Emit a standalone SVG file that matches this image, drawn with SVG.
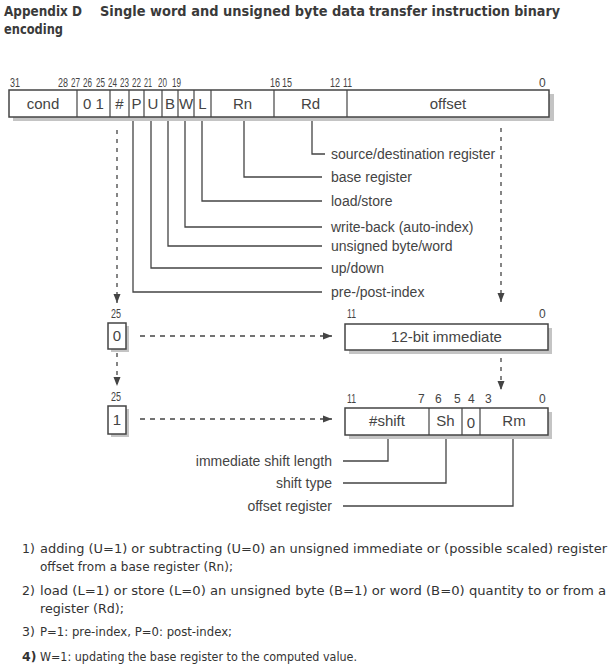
<svg xmlns="http://www.w3.org/2000/svg" width="615" height="667" viewBox="0 0 615 667">
<style>
.t{font-family:"DejaVu Sans",Verdana,sans-serif;font-weight:bold;font-size:14px;fill:#3a3a3a}
.n{font-family:"DejaVu Sans",Verdana,sans-serif;font-size:12.5px;fill:#333}
.nb{font-family:"DejaVu Sans",Verdana,sans-serif;font-size:12.5px;fill:#333;font-weight:bold}
.b{font-family:"Liberation Sans",Arial,sans-serif;font-size:12px;fill:#444}
.f{font-family:"Liberation Sans",Arial,sans-serif;font-size:15px;fill:#444;text-anchor:middle}
.l{font-family:"Liberation Sans",Arial,sans-serif;font-size:14px;fill:#444}
.lr{font-family:"Liberation Sans",Arial,sans-serif;font-size:14px;fill:#444;text-anchor:end}
.box{fill:#fff;stroke:#444;stroke-width:1.5}
.sh{fill:#c4c4c4}
.div{stroke:#444;stroke-width:1.2}
.ln{fill:none;stroke:#444;stroke-width:1.3}
.dash{fill:none;stroke:#444;stroke-width:1.3;stroke-dasharray:5 5}
.vdash{fill:none;stroke:#444;stroke-width:1.3;stroke-dasharray:4 5}
</style>
<defs>
<marker id="ah" markerWidth="10" markerHeight="8" refX="9" refY="4" orient="auto" markerUnits="userSpaceOnUse">
<path d="M0,0.5 L9,4 L0,7.5 Z" fill="#444"/>
</marker>
</defs>
<rect width="615" height="667" fill="#fff"/>

<g id="title">
<text class="t" x="4" y="16" textLength="78" lengthAdjust="spacingAndGlyphs">Appendix D</text>
<text class="t" x="100" y="16" textLength="265" lengthAdjust="spacingAndGlyphs">Single word and unsigned byte data</text>
<text class="t" x="369" y="16" textLength="191" lengthAdjust="spacingAndGlyphs">transfer instruction binary</text>
<text class="t" x="4" y="34" textLength="59" lengthAdjust="spacingAndGlyphs">encoding</text>
</g>

<g id="instruction-word">
<text class="b" x="10" y="87" textLength="10" lengthAdjust="spacingAndGlyphs">31</text>
<text class="b" x="58" y="87" textLength="10" lengthAdjust="spacingAndGlyphs">28</text>
<text class="b" x="71" y="87" textLength="9" lengthAdjust="spacingAndGlyphs">27</text>
<text class="b" x="83" y="87" textLength="9" lengthAdjust="spacingAndGlyphs">26</text>
<text class="b" x="96" y="87" textLength="9" lengthAdjust="spacingAndGlyphs">25</text>
<text class="b" x="108" y="87" textLength="9" lengthAdjust="spacingAndGlyphs">24</text>
<text class="b" x="120" y="87" textLength="9" lengthAdjust="spacingAndGlyphs">23</text>
<text class="b" x="132" y="87" textLength="9" lengthAdjust="spacingAndGlyphs">22</text>
<text class="b" x="144" y="87" textLength="8" lengthAdjust="spacingAndGlyphs">21</text>
<text class="b" x="158" y="87" textLength="9" lengthAdjust="spacingAndGlyphs">20</text>
<text class="b" x="172" y="87" textLength="9" lengthAdjust="spacingAndGlyphs">19</text>
<text class="b" x="270" y="87" textLength="10" lengthAdjust="spacingAndGlyphs">16</text>
<text class="b" x="282" y="87" textLength="10" lengthAdjust="spacingAndGlyphs">15</text>
<text class="b" x="330" y="87" textLength="10" lengthAdjust="spacingAndGlyphs">12</text>
<text class="b" x="343" y="87" textLength="9" lengthAdjust="spacingAndGlyphs">11</text>
<text class="b" x="539" y="87">0</text>
<rect class="sh" x="13" y="94" width="541" height="27"/>
<rect class="box" x="9" y="90" width="540" height="27"/>
<line class="div" x1="77" y1="90" x2="77" y2="117"/>
<line class="div" x1="110" y1="90" x2="110" y2="117"/>
<line class="div" x1="129" y1="90" x2="129" y2="117"/>
<line class="div" x1="144" y1="90" x2="144" y2="117"/>
<line class="div" x1="162" y1="90" x2="162" y2="117"/>
<line class="div" x1="178" y1="90" x2="178" y2="117"/>
<line class="div" x1="194" y1="90" x2="194" y2="117"/>
<line class="div" x1="211" y1="90" x2="211" y2="117"/>
<line class="div" x1="274" y1="90" x2="274" y2="117"/>
<line class="div" x1="347" y1="90" x2="347" y2="117"/>
<text class="f" x="43" y="109">cond</text>
<text class="f" x="93.5" y="109">0 1</text>
<text class="f" x="119.5" y="109">#</text>
<text class="f" x="136.5" y="109">P</text>
<text class="f" x="153" y="109">U</text>
<text class="f" x="170" y="109">B</text>
<text class="f" x="186" y="109">W</text>
<text class="f" x="202.5" y="109">L</text>
<text class="f" x="242.5" y="109">Rn</text>
<text class="f" x="310.5" y="109">Rd</text>
<text class="f" x="448" y="109">offset</text>
</g>

<g id="field-labels">
<text class="l" x="331" y="159">source/destination register</text>
<text class="l" x="331" y="182">base register</text>
<text class="l" x="331" y="206">load/store</text>
<text class="l" x="331" y="232">write-back (auto-index)</text>
<text class="l" x="331" y="251">unsigned byte/word</text>
<text class="l" x="331" y="273">up/down</text>
<text class="l" x="331" y="297">pre-/post-index</text>
</g>

<g id="imm-bit">
<text class="b" x="111" y="318" textLength="10" lengthAdjust="spacingAndGlyphs">25</text>
<rect class="sh" x="111" y="326" width="18" height="26"/>
<rect class="box" x="108" y="323" width="18" height="26"/>
<text class="f" x="117" y="341">0</text>
</g>

<g id="immediate-offset">
<text class="b" x="347" y="318" textLength="9" lengthAdjust="spacingAndGlyphs">11</text>
<text class="b" x="539" y="318">0</text>
<rect class="sh" x="349" y="328" width="203" height="26"/>
<rect class="box" x="345" y="324" width="203" height="26"/>
<text class="f" x="446.5" y="342">12-bit immediate</text>
</g>

<g id="reg-bit">
<text class="b" x="111" y="401" textLength="10" lengthAdjust="spacingAndGlyphs">25</text>
<rect class="sh" x="111" y="409" width="18" height="28"/>
<rect class="box" x="108" y="406" width="18" height="28"/>
<text class="f" x="117" y="425">1</text>
</g>

<g id="register-offset">
<text class="b" x="347" y="403" textLength="9" lengthAdjust="spacingAndGlyphs">11</text>
<text class="b" x="418" y="403">7</text>
<text class="b" x="435" y="403">6</text>
<text class="b" x="454" y="403">5</text>
<text class="b" x="468" y="403">4</text>
<text class="b" x="485" y="403">3</text>
<text class="b" x="539" y="403">0</text>
<rect class="sh" x="349" y="412" width="203" height="27"/>
<rect class="box" x="345" y="408" width="203" height="27"/>
<line class="div" x1="429" y1="408" x2="429" y2="435"/>
<line class="div" x1="462" y1="408" x2="462" y2="435"/>
<line class="div" x1="480" y1="408" x2="480" y2="435"/>
<text class="f" x="387" y="426">#shift</text>
<text class="f" x="445.5" y="426">Sh</text>
<text class="f" x="471" y="428">0</text>
<text class="f" x="514" y="426">Rm</text>
</g>

<g id="shift-labels">
<text class="lr" x="332" y="466">immediate shift length</text>
<text class="lr" x="332" y="488">shift type</text>
<text class="lr" x="332" y="511">offset register</text>
</g>

<g id="connectors">
<polyline class="ln" points="312,121 312,154 325,154"/>
<polyline class="ln" points="244,121 244,177 322,177"/>
<polyline class="ln" points="202,121 202,201 322,201"/>
<polyline class="ln" points="185,121 185,227 322,227"/>
<polyline class="ln" points="168,121 168,246 322,246"/>
<polyline class="ln" points="151,121 151,268 322,268"/>
<polyline class="ln" points="133,121 133,292 322,292"/>
<line class="vdash" x1="117" y1="130" x2="117" y2="303" marker-end="url(#ah)"/>
<line class="vdash" x1="501" y1="128" x2="501" y2="302" marker-end="url(#ah)"/>
<line class="dash" x1="140" y1="336" x2="332" y2="336" marker-end="url(#ah)"/>
<line class="vdash" x1="117" y1="353" x2="117" y2="386" marker-end="url(#ah)"/>
<line class="vdash" x1="501" y1="358" x2="501" y2="390" marker-end="url(#ah)"/>
<line class="dash" x1="140" y1="419" x2="332" y2="419" marker-end="url(#ah)"/>
<polyline class="ln" points="388,439 388,461 343,461"/>
<polyline class="ln" points="446,439 446,483 343,483"/>
<polyline class="ln" points="513,439 513,506 343,506"/>
</g>

<g id="notes">
<text class="n" x="22" y="553">1)</text>
<text class="n" x="40" y="553" textLength="567" lengthAdjust="spacingAndGlyphs">adding (U=1) or subtracting (U=0) an unsigned immediate or (possible scaled) register</text>
<text class="n" x="40" y="571" textLength="193" lengthAdjust="spacingAndGlyphs">offset from a base register (Rn);</text>
<text class="n" x="22" y="595">2)</text>
<text class="n" x="40" y="595" textLength="566" lengthAdjust="spacingAndGlyphs">load (L=1) or store (L=0) an unsigned byte (B=1) or word (B=0) quantity to or from a</text>
<text class="n" x="40" y="613" textLength="84" lengthAdjust="spacingAndGlyphs">register (Rd);</text>
<text class="n" x="22" y="636">3)</text>
<text class="n" x="40" y="636" textLength="192" lengthAdjust="spacingAndGlyphs">P=1: pre-index, P=0: post-index;</text>
<text class="nb" x="22" y="661">4)</text>
<text class="n" x="40" y="661" textLength="317" lengthAdjust="spacingAndGlyphs">W=1: updating the base register to the computed value.</text>
</g>
</svg>
